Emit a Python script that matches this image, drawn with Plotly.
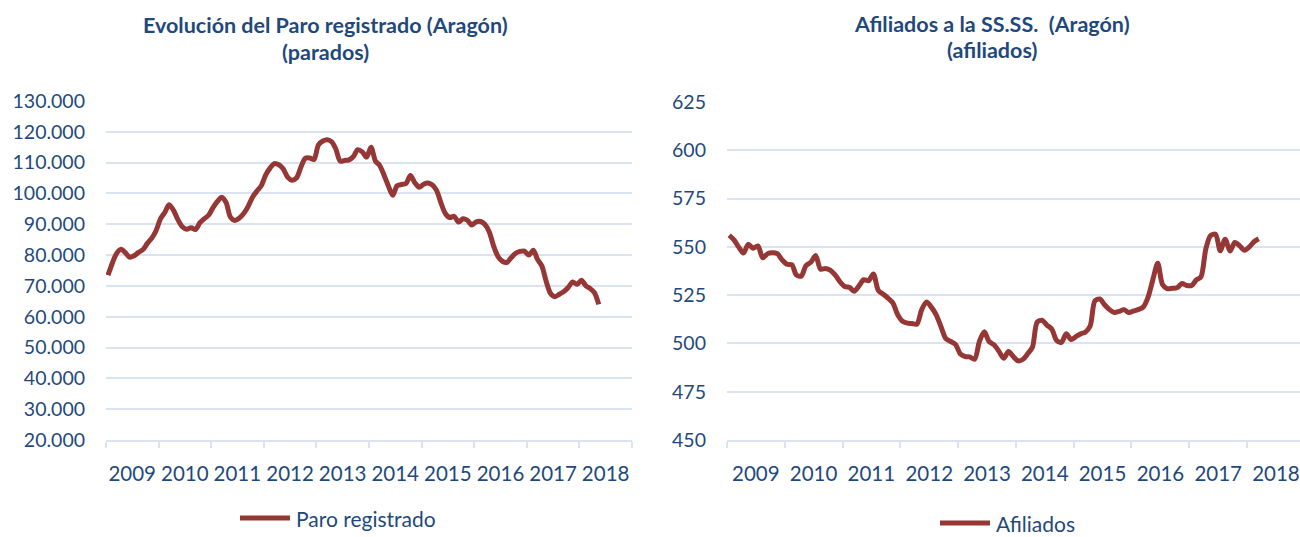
import pandas as pd
import plotly.graph_objects as go

# ---------------- DATA ----------------
paro_title = ["Evolución del Paro registrado (Aragón)", "(parados)"]
afil_title = ["Afiliados a la SS.SS.  (Aragón)", "(afiliados)"]
paro_name = "Paro registrado"
afil_name = "Afiliados"
start_month = "2009-01-01"
years = [2009, 2010, 2011, 2012, 2013, 2014, 2015, 2016, 2017, 2018]

# Monthly registered unemployment, Jan 2009 -> May 2018
paro = [
    73500, 77500, 80500, 81900, 80800, 79300, 79800, 80900, 81800, 83800, 85500, 88000,
    91800, 94000, 96300, 94500, 91500, 89200, 88400, 88900, 88300, 90500, 91800, 93000,
    95500, 97500, 98800, 97000, 92300, 91200, 92000, 93500, 95800, 98800, 100800, 102500,
    106000, 108300, 109700, 109300, 108000, 105300, 104300, 105000, 108500, 111400, 111500, 111000,
    115800, 117000, 117400, 116800, 114500, 110500, 110700, 110900, 112000, 114200, 113500, 111800,
    115000, 110500, 109200, 106000, 102500, 99400, 102500, 102900, 103200, 105800, 103500, 102000,
    103000, 103400, 102800, 101000, 97000, 93500, 92200, 92600, 90700, 91800, 91300, 89800,
    90800, 90900, 90000, 87500, 83000, 79500, 78000, 77600, 79200, 80600, 81200, 81300,
    80000, 81600, 78700, 76500, 71500, 67500, 66500, 67300, 68200, 69500, 71300, 70500,
    71800, 70000, 69200, 67800, 64000,
]

# Monthly Social Security affiliates (thousands), Jan 2009 -> Mar 2018
afiliados = [
    556.0, 553.5, 550.0, 546.8, 551.3, 549.3, 550.5, 544.3, 546.5, 547.0, 546.5, 543.3,
    541.0, 540.7, 535.5, 534.8, 540.3, 542.0, 545.5, 538.5, 538.8, 538.0, 535.5, 532.0,
    529.5, 529.0, 527.0, 529.8, 533.0, 532.5, 536.0, 527.5, 525.5, 523.5, 521.0, 515.0,
    511.5, 510.5, 510.3, 510.0, 517.4, 521.5, 518.8, 514.8, 508.5, 502.5, 501.0, 499.5,
    494.5, 493.2, 493.0, 491.8, 501.0, 506.0, 501.0, 499.3, 496.0, 492.3, 495.8, 493.2,
    491.0, 491.8, 494.5, 498.0, 511.0, 512.0, 509.5, 507.5, 501.5, 500.5, 505.0, 502.0,
    503.5, 505.0, 505.8, 509.0, 522.0, 523.0, 520.0, 517.5, 516.0, 516.6, 517.5, 516.0,
    516.8, 517.6, 518.8, 524.0, 533.0, 541.5, 530.5, 528.3, 528.6, 528.8, 531.0, 530.0,
    530.0, 533.0, 534.5, 549.0, 555.8, 556.5, 548.0, 554.0, 547.8, 552.3, 550.5, 548.2,
    550.0, 552.8, 554.2,
]

paro_dates = pd.date_range(start_month, periods=len(paro), freq="MS") + pd.Timedelta(days=14)
afil_dates = pd.date_range(start_month, periods=len(afiliados), freq="MS") + pd.Timedelta(days=14)
year_mid = [f"{y}-07-02" for y in years]
year_txt = [str(y) for y in years]

# ---------------- STYLE ----------------
W, H = 1300, 537
LINE = "#953735"
TXT = "#1F497D"
GRID = "#D9E3F1"
FONT = "Lato"

def px_x(p):
    return p / W

def px_y(p):
    return 1 - p / H

fig = go.Figure()
fig.add_trace(go.Scatter(
    x=paro_dates, y=paro, mode="lines", name=paro_name,
    line=dict(color=LINE, width=5, shape="spline", smoothing=0.8),
    xaxis="x", yaxis="y", showlegend=False,
))
fig.add_trace(go.Scatter(
    x=afil_dates, y=afiliados, mode="lines", name=afil_name,
    line=dict(color=LINE, width=5, shape="spline", smoothing=0.8),
    xaxis="x2", yaxis="y2", showlegend=False,
))

xcommon = dict(
    type="date", tickmode="array", tickvals=year_mid, ticktext=year_txt, ticks="",
    showgrid=False, showline=True, linecolor=GRID, linewidth=1.5,
    minor=dict(tickmode="linear", tick0="2009-01-01", dtick="M12", ticks="outside",
               ticklen=6, tickcolor=GRID, tickwidth=1.5, showgrid=False),
    tickfont=dict(family=FONT, size=20.5, color=TXT), ticklabelstandoff=15,
    zeroline=False, fixedrange=True, automargin=False,
)
ycommon = dict(
    showgrid=True, gridcolor=GRID, gridwidth=1.5, zeroline=False, showline=False,
    tickfont=dict(family=FONT, size=19.5, color=TXT), ticks="", ticklabelstandoff=20,
    fixedrange=True, automargin=False,
)

fig.update_layout(
    width=W, height=H, margin=dict(l=0, r=0, t=0, b=0, autoexpand=False),
    paper_bgcolor="white", plot_bgcolor="white",
    separators=",.",
    font=dict(family=FONT, color=TXT),
    showlegend=False,
    xaxis=dict(domain=[px_x(106), px_x(632)], range=["2009-01-01", "2019-01-01"],
               anchor="y", **xcommon),
    yaxis=dict(domain=[px_y(440), px_y(101)], range=[20000, 130000], dtick=10000,
               tickformat=",d", anchor="x", **ycommon),
    xaxis2=dict(domain=[px_x(727), 1.0], range=["2009-01-01", "2018-12-01"],
                anchor="y2", **xcommon),
    yaxis2=dict(domain=[px_y(440), px_y(102)], range=[450, 625], dtick=25,
                tickformat="d", anchor="x2", **ycommon),
)

# titles
for (txt, cx, cy) in [
    (paro_title[0], 325, 25), (paro_title[1], 325, 52),
    (afil_title[0], 992, 24), (afil_title[1], 992, 50),
]:
    fig.add_annotation(
        text=f"<b>{txt}</b>", x=px_x(cx), y=px_y(cy), xref="paper", yref="paper",
        xanchor="center", yanchor="middle", showarrow=False,
        font=dict(family=FONT, size=21.5, color=TXT),
    )

# legends (sample line + label)
for (name, x0, x1, ly) in [(paro_name, 240, 290, 518), (afil_name, 940, 990, 523)]:
    fig.add_shape(type="line", xref="paper", yref="paper",
                  x0=px_x(x0), x1=px_x(x1), y0=px_y(ly), y1=px_y(ly),
                  line=dict(color=LINE, width=5))
    fig.add_annotation(
        text=name, x=px_x(x1 + 4), y=px_y(ly), xref="paper", yref="paper",
        xanchor="left", yanchor="middle", showarrow=False,
        font=dict(family=FONT, size=21, color=TXT),
    )

fig.write_html("out.html", post_script="document.body.style.margin='0';",
               config={"displayModeBar": False})
